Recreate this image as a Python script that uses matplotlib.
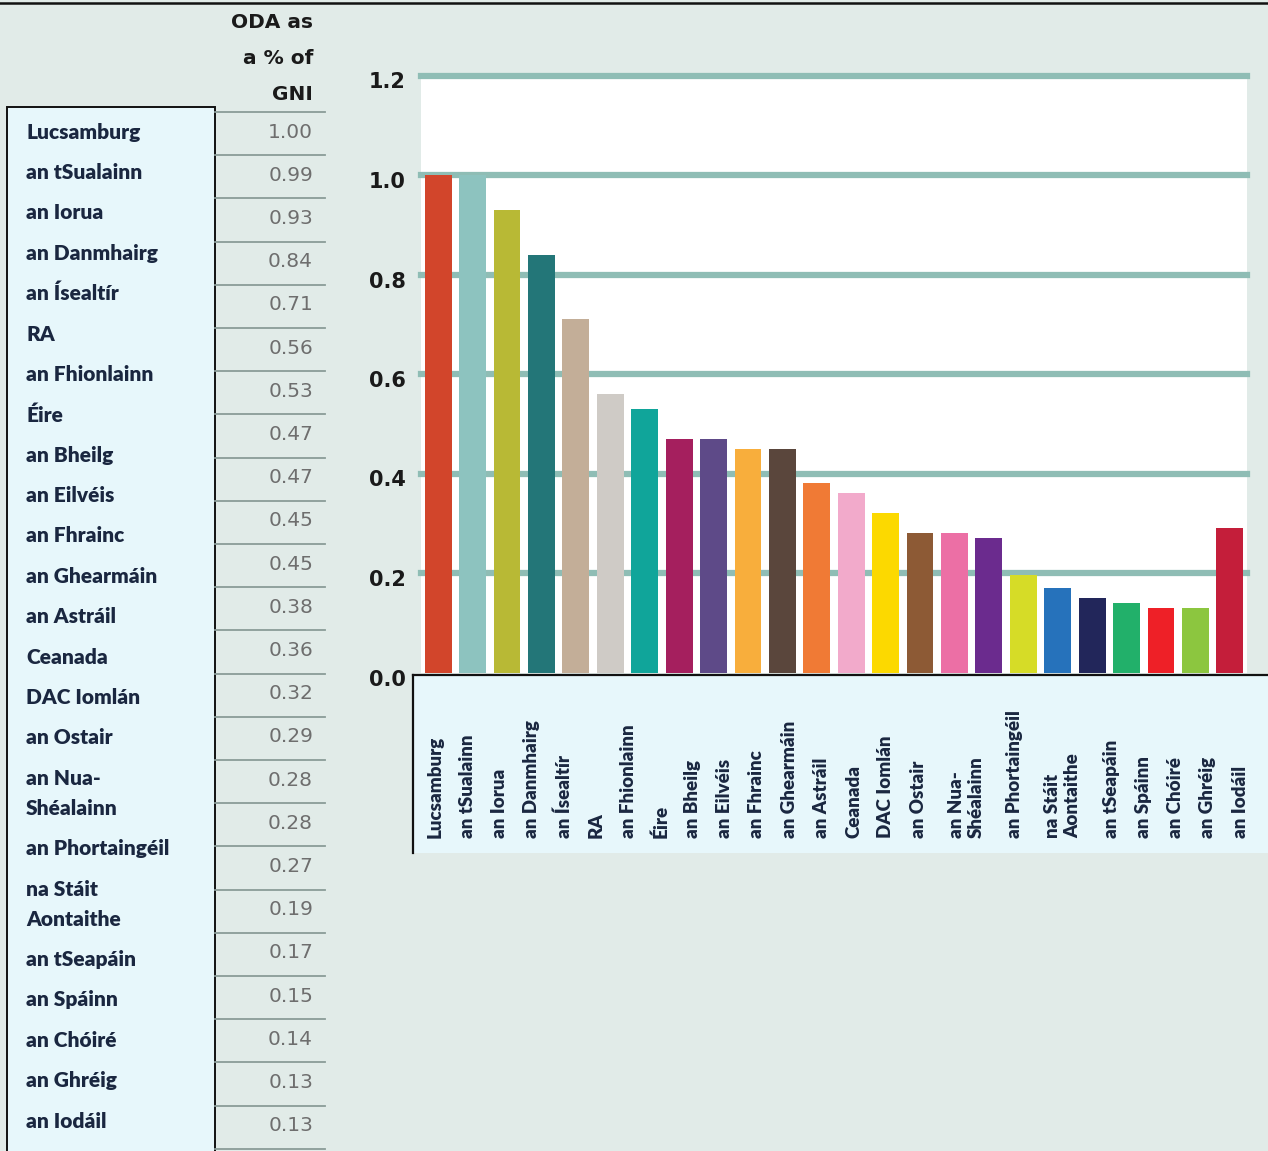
import matplotlib
matplotlib.use("Agg")
import matplotlib.pyplot as plt
from matplotlib.patches import Rectangle
from matplotlib.transforms import ScaledTranslation

# ── Data ───────────────────────────────────────────────────────────────────
COUNTRIES = [
    "Lucsamburg", "an tSualainn", "an Iorua", "an Danmhairg", "an Ísealtír",
    "RA", "an Fhionlainn", "Éire", "an Bheilg", "an Eilvéis", "an Fhrainc",
    "an Ghearmáin", "an Astráil", "Ceanada", "DAC Iomlán", "an Ostair",
    "an Nua-\nShéalainn", "an Phortaingéil", "na Stáit\nAontaithe",
    "an tSeapáin", "an Spáinn", "an Chóiré", "an Ghréig", "an Iodáil",
]

# values printed in the table column
TABLE_VALUES = [
    "1.00", "0.99", "0.93", "0.84", "0.71", "0.56", "0.53", "0.47", "0.47",
    "0.45", "0.45", "0.38", "0.36", "0.32", "0.29", "0.28", "0.28", "0.27",
    "0.19", "0.17", "0.15", "0.14", "0.13", "0.13",
]

# bar heights as drawn in the chart
BAR_VALUES = [
    1.00, 1.00, 0.93, 0.84, 0.71, 0.56, 0.53, 0.47, 0.47, 0.45, 0.45, 0.38,
    0.36, 0.32, 0.28, 0.28, 0.27, 0.195, 0.17, 0.15, 0.14, 0.13, 0.13, 0.29,
]

BAR_COLORS = [
    "#d2452b", "#8dc3bf", "#b8b935", "#237678", "#c3ae98", "#cfcbc6",
    "#10a59a", "#a51f5e", "#5e4a88", "#f8ae3c", "#5a463c", "#f07a35",
    "#f2aacb", "#fcd900", "#8d5a35", "#ec6fa5", "#6b2b8e", "#d6dc27",
    "#2672bb", "#22265a", "#22b06a", "#ee2027", "#8cc63f", "#c41e3a",
]

Y_TICKS = [0.0, 0.2, 0.4, 0.6, 0.8, 1.0, 1.2]
HEADER = ["ODA as", "a % of", "GNI"]

# ── Style ──────────────────────────────────────────────────────────────────
W, H = 1268, 1151
BG = "#e1ebe8"
BOX_FILL = "#e7f7fb"
GRID = "#8fbdb5"
NAVY = "#1a2740"
NAME_FONT = ["Lato", "DejaVu Sans"]


def box(x0, y0, x1, y1):
    """pixel box (top-left origin) -> figure fraction rect"""
    return [x0 / W, 1 - y1 / H, (x1 - x0) / W, (y1 - y0) / H]


fig = plt.figure(figsize=(W / 100, H / 100), dpi=100, facecolor=BG)

# pixel canvas for the table, label box and frame
cv = fig.add_axes([0, 0, 1, 1])
cv.set_xlim(0, W)
cv.set_ylim(H, 0)
cv.axis("off")

cv.plot([0, W], [2.5, 2.5], color="#111111", linewidth=1.8)

# ── Left table ─────────────────────────────────────────────────────────────
cv.add_patch(Rectangle((7, 107), 208, H, facecolor=BOX_FILL,
                       edgecolor="#111111", linewidth=1.4))

y = 132
for name in COUNTRIES:
    lines = name.split("\n")
    for i, line in enumerate(lines):
        cv.text(26, y + 30 * i, line, ha="left", va="center", fontsize=15,
                fontweight="heavy", color=NAVY, family=NAME_FONT)
    y += 40.4 + 30 * (len(lines) - 1)

for i, line in enumerate(HEADER):
    cv.text(313, 22 + 36 * i, line, ha="right", va="center", fontsize=14.5,
            fontweight="bold", color="#1a1a1a")

row_h = 43.2
for k in range(len(TABLE_VALUES) + 1):
    ys = 112 + row_h * k
    cv.plot([215, 325], [ys, ys], color="#8a9c98", linewidth=1.3)
for k, v in enumerate(TABLE_VALUES):
    cv.text(313, 112 + row_h * k + 20, v, ha="right", va="center",
            fontsize=14.5, color="#6e6e6e")

# ── Label box under the chart ──────────────────────────────────────────────
cv.add_patch(Rectangle((413, 675), W - 413, 178, facecolor=BOX_FILL,
                       edgecolor="none"))
cv.plot([413, W], [675, 675], color="#111111", linewidth=1.6)
cv.plot([413, 413], [675, 853], color="#111111", linewidth=1.6)

col = 0
for name in COUNTRIES:
    n = name.count("\n") + 1
    xc = 435 + 32.2 * (col + (n - 1) / 2)
    cv.text(xc, 838, name, rotation=90, ha="center", va="bottom",
            multialignment="left", linespacing=1.25, fontsize=13.5,
            fontweight="heavy", color=NAVY, family=NAME_FONT)
    col += n

# ── Bar chart ──────────────────────────────────────────────────────────────
ax = fig.add_axes(box(421, 75.5, 1247, 672.5))
ax.set_facecolor("white")
x = range(len(BAR_VALUES))
ax.bar(x, BAR_VALUES, width=0.78, color=BAR_COLORS, zorder=3)
for t in Y_TICKS[1:]:
    ax.axhline(t, color=GRID, linewidth=4.5, zorder=1, clip_on=False)

ax.set_xlim(-0.5, len(BAR_VALUES) - 0.5)
ax.set_ylim(0, 1.2)
ax.set_xticks([])
ax.set_yticks(Y_TICKS)
ax.set_yticklabels([f"{t:.1f}" for t in Y_TICKS], fontweight="bold",
                   fontsize=15, color="#1a1a1a")
ax.tick_params(axis="y", length=0, pad=11)
# labels sit a few pixels below their gridline in the original
shift = ScaledTranslation(0, -5 / 100, fig.dpi_scale_trans)
for lab in ax.get_yticklabels():
    lab.set_transform(lab.get_transform() + shift)
for s in ax.spines.values():
    s.set_visible(False)

fig.savefig("out.png", dpi=100, facecolor=BG)
